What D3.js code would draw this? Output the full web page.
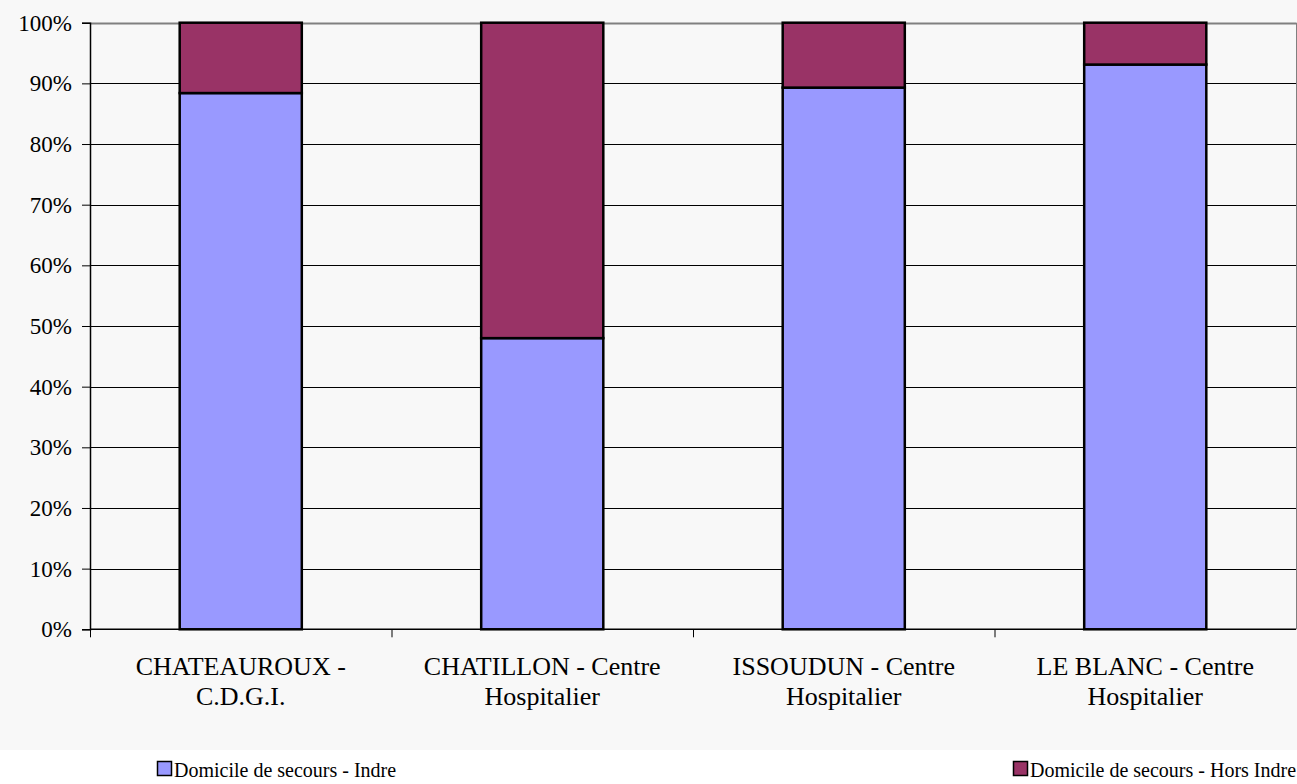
<!DOCTYPE html>
<html><head><meta charset="utf-8">
<script src="https://cdn.jsdelivr.net/npm/d3@7"></script>
<style>
html,body{margin:0;padding:0;background:#fff;}
svg{display:block;}
text{font-family:"Liberation Serif","DejaVu Serif",serif;fill:#000;}
</style></head>
<body>
<svg id="c" width="1297" height="784"></svg>
<script>
const categories = [
  ["CHATEAUROUX -", "C.D.G.I."],
  ["CHATILLON - Centre", "Hospitalier"],
  ["ISSOUDUN - Centre", "Hospitalier"],
  ["LE BLANC - Centre", "Hospitalier"]
];
const seriesNames = ["Domicile de secours - Indre", "Domicile de secours - Hors Indre"];
const indre = [0.884, 0.480, 0.893, 0.931];
const horsIndre = [0.116, 0.520, 0.107, 0.069];
const colors = ["#9999ff", "#993366"];
const yTicks = [0,0.1,0.2,0.3,0.4,0.5,0.6,0.7,0.8,0.9,1.0];

const svg = d3.select("#c");
const W = 1297, H = 784;
const m = {left:90, right:1296, top:22.7, bottom:629.3};

svg.append("rect").attr("x",0).attr("y",0).attr("width",W).attr("height",750).attr("fill","#f8f8f8");

const x = d3.scaleBand().domain(d3.range(categories.length)).range([m.left, m.right]).paddingInner(0).paddingOuter(0);
const y = d3.scaleLinear().domain([0,1]).range([m.bottom, m.top]);

// gridlines
svg.append("g").selectAll("line").data(yTicks.filter(d=>d>0)).join("line")
  .attr("x1", m.left).attr("x2", m.right)
  .attr("y1", d=>Math.round(y(d))+0.5).attr("y2", d=>Math.round(y(d))+0.5)
  .attr("stroke", d=> d===1 ? "#808080" : "#000").attr("stroke-width", d=> d===1 ? 2 : 1);
// right border
svg.append("line").attr("x1", m.right+0.5).attr("x2", m.right+0.5).attr("y1", m.top).attr("y2", m.bottom)
  .attr("stroke","#808080").attr("stroke-width",1);

// stacked data
const stackData = categories.map((c,i)=>({i, a:indre[i], b:horsIndre[i]}));
const stack = d3.stack().keys(["a","b"])(stackData);
const bw = x.bandwidth()*0.405;
stack.forEach((layer, li)=>{
  svg.append("g").selectAll("rect").data(layer).join("rect")
    .attr("x", d=> x(d.data.i) + (x.bandwidth()-bw)/2)
    .attr("width", bw)
    .attr("y", d=> y(Math.min(d[1],1)))
    .attr("height", d=> y(d[0]) - y(Math.min(d[1],1)))
    .attr("fill", colors[li])
    .attr("stroke","#000").attr("stroke-width",2.5);
});

// y axis
const yAxis = d3.axisLeft(y).tickValues(yTicks).tickFormat(d3.format(".0%")).tickSize(8).tickPadding(10);
const ga = svg.append("g").attr("transform",`translate(${m.left},0)`).call(yAxis);
ga.attr("font-family",null).attr("font-size",null);
ga.select(".domain").attr("stroke","#000").attr("stroke-width",1.5);
ga.selectAll(".tick line").attr("stroke","#000");
ga.selectAll(".tick text").style("font-size","23px").attr("fill","#000").attr("dy","0.33em");

// x axis
const gx = svg.append("g").attr("transform",`translate(0,${m.bottom})`);
gx.append("line").attr("x1",m.left).attr("x2",m.right).attr("y1",0).attr("y2",0).attr("stroke","#000").attr("stroke-width",1.5);
const bounds = d3.range(categories.length).map(i=> x(i));
gx.selectAll("line.t").data(bounds).join("line").attr("class","t")
  .attr("x1",d=>d+0.5).attr("x2",d=>d+0.5).attr("y1",0).attr("y2",8).attr("stroke","#000");
const lbl = gx.selectAll("text.c").data(categories).join("text").attr("class","c")
  .attr("x",(d,i)=>x(i)+x.bandwidth()/2).attr("y",46)
  .attr("text-anchor","middle").style("font-size","26px");
lbl.selectAll("tspan").data(d=>d).join("tspan")
  .attr("x", function(){return this.parentNode.getAttribute("x");})
  .attr("dy",(d,j)=> j===0?0:30).text(d=>d);

// legend
const legX = [157, 1013];
seriesNames.forEach((s,i)=>{
  svg.append("rect").attr("x",legX[i]+0.5).attr("y",761.5).attr("width",14).attr("height",14)
    .attr("fill",colors[i]).attr("stroke","#000").attr("stroke-width",1.5);
  svg.append("text").attr("x",legX[i]+17).attr("y",777).style("font-size","20px").text(s);
});
</script>
</body></html>
